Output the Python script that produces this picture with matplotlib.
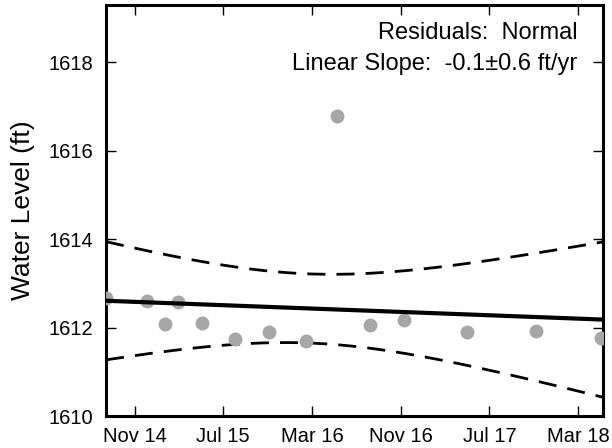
import numpy as np
import matplotlib
matplotlib.use("Agg")
import matplotlib.pyplot as plt
import matplotlib.dates as mdates

plt.rcParams["font.family"] = ["Liberation Sans", "DejaVu Sans"]

DATES = ["2014-08-13", "2014-12-04", "2015-01-22", "2015-02-27", "2015-05-04",
         "2015-08-02", "2015-11-04", "2016-02-13", "2016-05-09", "2016-08-07",
         "2016-11-08", "2017-05-01", "2017-11-06", "2018-05-03"]
LEVELS = [1612.68, 1612.61, 1612.09, 1612.59, 1612.11, 1611.75, 1611.91,
          1611.70, 1616.80, 1612.05, 1612.18, 1611.91, 1611.93, 1611.77]
TICK_DATES = ["2014-11-01", "2015-07-01", "2016-03-01", "2016-11-01",
              "2017-07-01", "2018-03-01"]
X_RANGE = ["2014-08-13", "2018-05-09"]
Y_RANGE = (1610, 1619.3)
Y_TICKS = [1610, 1612, 1614, 1616, 1618]
T95 = 2.179  # t(0.975, df=12)

x = mdates.datestr2num(DATES)
y = np.array(LEVELS)
xlim = mdates.datestr2num(X_RANGE)

# ordinary least squares + 95% confidence band of the fitted line
b, a = np.polyfit(x, y, 1)
n = len(x)
res = y - (a + b * x)
s = np.sqrt(np.sum(res ** 2) / (n - 2))
xx = np.linspace(xlim[0], xlim[1], 200)
yy = a + b * xx
hw = T95 * s * np.sqrt(1.0 / n + (xx - x.mean()) ** 2 / np.sum((x - x.mean()) ** 2))

fig = plt.figure(figsize=(6.12, 4.48), dpi=100)
ax = fig.add_axes([0.1732, 0.0714, 0.8121, 0.9174])
ax.plot(x, y, "o", color="#a6a6a6", ms=10, mec="none", zorder=3)
ax.plot(xx, yy, "-", color="k", lw=3, zorder=4)
ax.plot(xx, yy + hw, "--", color="k", lw=2, dashes=(6.5, 4))
ax.plot(xx, yy - hw, "--", color="k", lw=2, dashes=(6.5, 4))

ax.set_xlim(xlim)
ax.set_ylim(*Y_RANGE)
ax.set_xticks(mdates.datestr2num(TICK_DATES))
ax.xaxis.set_major_formatter(mdates.DateFormatter("%b %y"))
ax.set_yticks(Y_TICKS)
ax.tick_params(direction="in", length=7, width=1, top=True, right=True,
               labelsize=14.5)
ax.tick_params(axis="y", pad=9)
ax.tick_params(axis="x", pad=8)
for sp in ax.spines.values():
    sp.set_linewidth(2.2)
ax.set_ylabel("Water Level (ft)", fontsize=19, labelpad=10)

ax.text(0.948, 0.933, "Residuals:  Normal", transform=ax.transAxes,
        ha="right", va="center", fontsize=17)
ax.text(0.948, 0.857, "Linear Slope:  -0.1\u00b10.6 ft/yr", transform=ax.transAxes,
        ha="right", va="center", fontsize=17)

fig.savefig("out.png", dpi=100)
